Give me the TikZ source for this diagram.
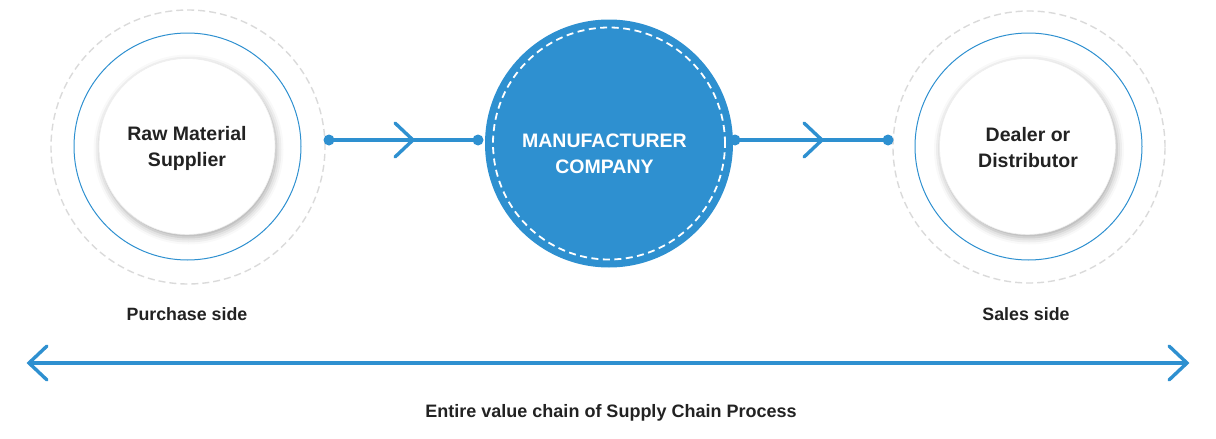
\documentclass[tikz,border=0pt]{standalone}
\usepackage{fontspec}
\setmainfont{Liberation Sans}
\usetikzlibrary{shadows.blur}
\definecolor{cblue}{RGB}{46,144,208}
\definecolor{cgray}{RGB}{218,218,218}
\definecolor{ctext}{RGB}{34,34,34}
\definecolor{cedge}{RGB}{238,238,238}
\begin{document}
\begin{tikzpicture}[x=1pt,y=-1pt,
  halo/.style={circle, draw=cgray, line width=1.4pt, dash pattern=on 7pt off 4pt, inner sep=0pt, minimum size=#1},
  ring/.style={circle, draw=cblue, line width=1pt, inner sep=0pt, minimum size=#1},
  core/.style={circle, draw=cedge, line width=0.6pt, fill=white, inner sep=0pt, minimum size=#1,
    blur shadow={shadow xshift=1.5pt, shadow yshift=-3pt, shadow blur radius=7pt, shadow opacity=35}},
  hub/.style={circle, fill=cblue, inner sep=0pt, minimum size=#1},
  hubdash/.style={circle, draw=white, line width=1.8pt, dash pattern=on 7pt off 4.5pt, inner sep=0pt, minimum size=#1},
  dot/.style={circle, fill=cblue, inner sep=0pt, minimum size=11pt},
  conn/.style={draw=cblue, line width=3.2pt},
  chev/.style={draw=cblue, line width=3.4pt, line cap=round, line join=miter},
  bigtxt/.style={font=\fontsize{19.5}{26}\selectfont\bfseries, align=center, inner sep=0pt},
  lbltxt/.style={font=\fontsize{17.8}{22}\selectfont\bfseries, text=ctext, inner sep=0pt, anchor=base},
]
\useasboundingbox (0,0) rectangle (1216,439);

% left group
\node[halo=274pt] (lhalo) at (188,147) {};
\node[ring=227pt] (lring) at (187.5,146.5) {};
\node[core=176pt] (lcore) at (187,146.5) {};
\node[bigtxt, text=ctext] (ltxt) at (187,148.8) {Raw Material\\Supplier};

% right group
\node[halo=272pt] (rhalo) at (1029,147) {};
\node[ring=227pt] (rring) at (1028.5,146.5) {};
\node[core=176pt] (rcore) at (1027.5,146.5) {};
\node[bigtxt, text=ctext] (rtxt) at (1028,147.5) {Dealer or\\Distributor};

% manufacturer
\node[hub=248pt] (hub) at (609,143.5) {};
\node[hubdash=232pt] (hubd) at (609,143.5) {};
\node[bigtxt, text=white] (mtxt) at (604.5,154) {MANUFACTURER\\COMPANY};

% connectors
\node[dot] (d1) at (329,140) {};
\node[dot] (d2) at (478,140) {};
\node[dot] (d3) at (735,140) {};
\node[dot] (d4) at (888,140) {};
\draw[conn] (d1.center) -- (d2.center);
\draw[conn] (d3.center) -- (d4.center);
\coordinate (m1) at (413,140);
\coordinate (m2) at (822,140);
\draw[chev] ([xshift=-18pt,yshift=17pt]m1) -- (m1) -- ([xshift=-18pt,yshift=-17pt]m1);
\draw[chev] ([xshift=-18pt,yshift=17pt]m2) -- (m2) -- ([xshift=-18pt,yshift=-17pt]m2);

% labels
\node[lbltxt] (plbl) at (187,320) {Purchase side};
\node[lbltxt] (slbl) at (1026,320) {Sales side};

% bottom arrow
\coordinate (bl) at (29,363);
\coordinate (br) at (1187,363);
\draw[conn] (bl) -- (br);
\draw[chev] ([xshift=18pt,yshift=17pt]bl) -- (bl) -- ([xshift=18pt,yshift=-17pt]bl);
\draw[chev] ([xshift=-18pt,yshift=17pt]br) -- (br) -- ([xshift=-18pt,yshift=-17pt]br);
\node[lbltxt, font=\fontsize{18}{22}\selectfont\bfseries] (btxt) at (611,417) {Entire value chain of Supply Chain Process};
\end{tikzpicture}
\end{document}
